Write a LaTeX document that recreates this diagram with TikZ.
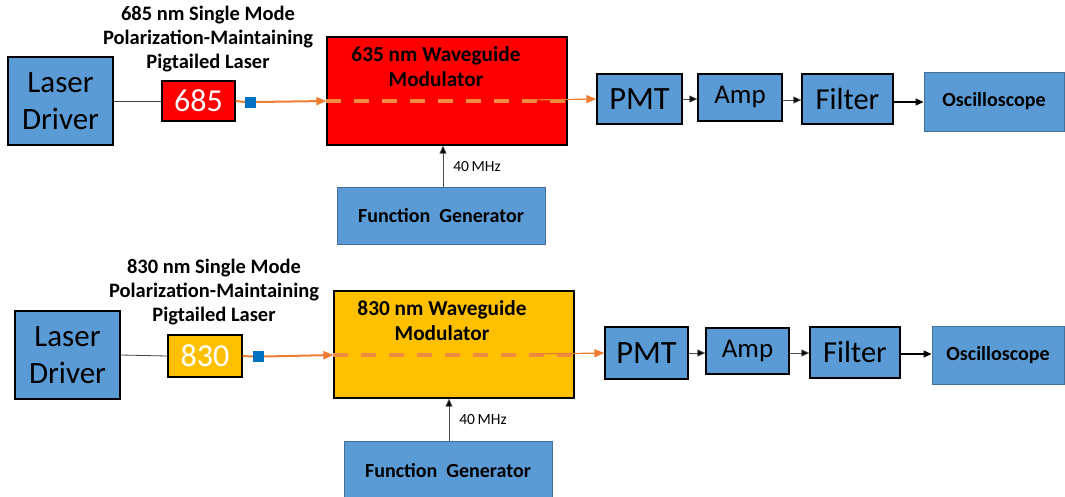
\documentclass[tikz,border=0pt]{standalone}
\usepackage{fontspec}
\setmainfont{Carlito}
\usetikzlibrary{arrows.meta}
\definecolor{boxblue}{HTML}{5B9BD5}
\definecolor{edgeblue}{HTML}{41719C}
\definecolor{lred}{HTML}{FF0000}
\definecolor{lyellow}{HTML}{FFC000}
\definecolor{beam}{HTML}{ED7D31}
\definecolor{beamdash}{HTML}{F08A3E}
\definecolor{sqblue}{HTML}{0070C0}
\begin{document}
\begin{tikzpicture}[x=1pt,y=-1pt,
  blk/.style={draw=black,line width=1.2pt,fill=boxblue,inner sep=0pt,anchor=center},
  blkb/.style={draw=edgeblue,line width=1pt,fill=boxblue,inner sep=0pt,anchor=center},
  laserbox/.style={draw=black,line width=1.2pt,inner sep=0pt,text=white,font=\fontsize{32}{34}\selectfont},
  modbox/.style={draw=black,line width=1.2pt,inner sep=0pt},
  sqr/.style={fill=sqblue,draw=none,minimum width=11pt,minimum height=11pt,inner sep=0pt},
  lab/.style={font=\bfseries\fontsize{20.5}{24}\selectfont,align=center,inner sep=0pt},
  modlab/.style={font=\bfseries\fontsize{21.3}{25}\selectfont,align=center,inner sep=0pt},
  mhz/.style={font=\fontsize{15.5}{17}\selectfont,inner sep=0pt},
  wire/.style={draw=black!75,line width=0.8pt},
  sig/.style={draw=black!70,line width=0.8pt,-{Triangle[length=8pt,width=7pt,fill=black]}},
  sigk/.style={draw=black,line width=1.3pt,-{Triangle[length=8pt,width=7pt]}},
  beamarr/.style={draw=beam,line width=2pt,-{Triangle[length=10pt,width=8pt]}},
  beamthin/.style={draw=beam,line width=1.2pt,-{Triangle[length=10pt,width=8pt]}},
  beamd/.style={draw=beamdash,line width=4pt,dash pattern=on 15pt off 13pt},
  fgfont/.style={font=\bfseries\fontsize{20}{22}\selectfont},
]
\useasboundingbox (0,0) rectangle (1065,496);
\fill[white] (0,0) rectangle (1065,496);

% ---------------- top row ----------------
\node[blk,minimum width=105pt,minimum height=88pt,align=center,font=\fontsize{31}{37}\selectfont] (ld1) at (60.5,101) {Laser\\Driver};
\node[laserbox,fill=lred,minimum width=73pt,minimum height=40pt] (l1) at (198.5,101) {685};
\node[sqr] (sq1) at (250.5,102) {};
\node[lab] (t1) at (208,39) {685 nm Single Mode\\Polarization-Maintaining\\Pigtailed Laser};
\node[modbox,fill=lred,minimum width=240pt,minimum height=108pt] (m1) at (447,91) {};
\node[modlab] (mt1) at (436,66.5) {635 nm Waveguide\\Modulator};
\node[blkb,minimum width=208pt,minimum height=57pt,fgfont] (fg1) at (441,215.5) {Function\ \ Generator};
\node[blk,minimum width=85pt,minimum height=50pt,font=\fontsize{32.5}{34}\selectfont] (p1) at (639.5,99) {PMT};
\node[blk,minimum width=84pt,minimum height=47pt,font=\fontsize{27}{29}\selectfont] (a1) at (740,97.5) {Amp};
\node[blk,minimum width=91pt,minimum height=50pt,font=\fontsize{30.5}{32}\selectfont] (f1) at (847.5,99) {Filter};
\node[blkb,minimum width=140pt,minimum height=59pt,fgfont] (o1) at (994,101.5) {Oscilloscope};
\node[mhz] (hz1) at (477,167) {40\,MHz};

\coordinate (m1in) at (m1.west |- 0,101);
\coordinate (m1out) at (m1.east |- 0,101);
\coordinate (m1tap) at (530,100);
\draw[wire] (ld1.east) -- (l1.west);
\draw[draw=beam,line width=2pt] (l1.east) -- (sq1.west);
\draw[beamarr] (sq1.east) -- (m1in);
\draw[beamd] (m1in) -- (m1out);
\draw[beamthin] (m1tap) -- (p1.west);
\draw[sig] (fg1.north -| 443,0) -- (m1.south -| 443,0);
\draw[sig] (p1.east) -- (a1.west |- p1.east);
\draw[sig] (a1.east |- 0,100) -- (f1.west |- 0,100);
\draw[sigk] (f1.east |- 0,102) -- (o1.west |- 0,102);

% ---------------- bottom row ----------------
\node[blk,minimum width=105pt,minimum height=88pt,align=center,font=\fontsize{31}{37}\selectfont] (ld2) at (67.5,355) {Laser\\Driver};
\node[laserbox,fill=lyellow,minimum width=74pt,minimum height=42pt] (l2) at (205,356) {830};
\node[sqr] (sq2) at (258.5,356.5) {};
\node[lab] (t2) at (214,292) {830 nm Single Mode\\Polarization-Maintaining\\Pigtailed Laser};
\node[modbox,fill=lyellow,minimum width=240pt,minimum height=107pt] (m2) at (454,344.5) {};
\node[modlab] (mt2) at (442,320.5) {830 nm Waveguide\\Modulator};
\node[blkb,minimum width=208pt,minimum height=60pt,fgfont] (fg2) at (448,471) {Function\ \ Generator};
\node[blk,minimum width=83pt,minimum height=52pt,font=\fontsize{32.5}{34}\selectfont] (p2) at (646.5,353) {PMT};
\node[blk,minimum width=83pt,minimum height=46pt,font=\fontsize{27}{29}\selectfont] (a2) at (747.5,351) {Amp};
\node[blk,minimum width=90pt,minimum height=51pt,font=\fontsize{30.5}{32}\selectfont] (f2) at (855,352.5) {Filter};
\node[blkb,minimum width=132pt,minimum height=58pt,fgfont] (o2) at (998,355) {Oscilloscope};
\node[mhz] (hz2) at (483,420) {40\,MHz};

\coordinate (m2in) at (m2.west |- 0,355);
\coordinate (m2out) at (m2.east |- 0,355);
\coordinate (m2tap) at (537,354);
\draw[wire] (ld2.east) -- (l2.west);
\draw[draw=beam,line width=2pt] (l2.east) -- (sq2.west);
\draw[beamarr] (sq2.east) -- (m2in);
\draw[beamd] (m2in) -- (m2out);
\draw[beamthin] (m2tap) -- (p2.west);
\draw[sig] (fg2.north -| 449,0) -- (m2.south -| 449,0);
\draw[sig] (p2.east |- 0,353) -- (a2.west |- 0,353);
\draw[sig] (a2.east |- 0,353) -- (f2.west |- 0,353);
\draw[sigk] (f2.east |- 0,354) -- (o2.west |- 0,354);
\end{tikzpicture}
\end{document}
